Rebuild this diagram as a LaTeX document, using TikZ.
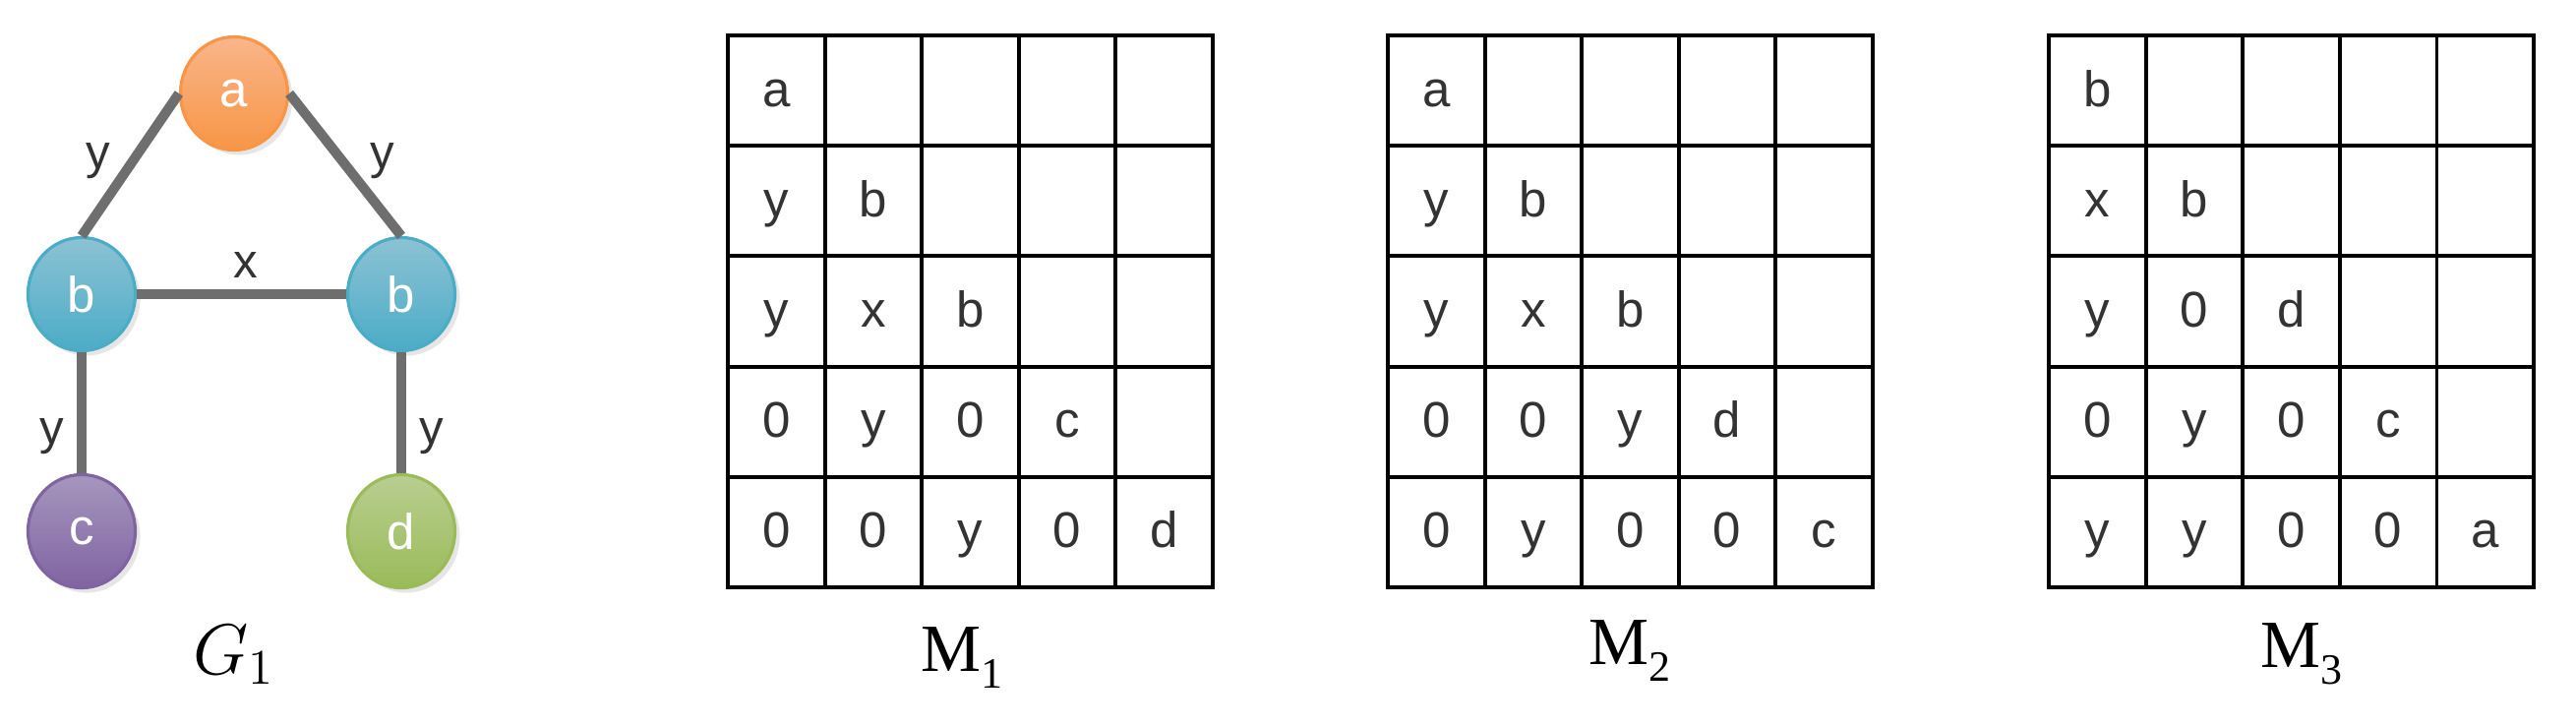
\documentclass[tikz,border=0pt]{standalone}
\usepackage{fontspec}
\newfontfamily\sansfam{Liberation Sans}
\newfontfamily\seriffam{Liberation Serif}
\usetikzlibrary{shapes.geometric, shadows}

\definecolor{vorange}{HTML}{F79646}
\definecolor{vorangelt}{HTML}{F9B58A}
\definecolor{vblue}{HTML}{4BACC6}
\definecolor{vbluelt}{HTML}{8CC2D4}
\definecolor{vpurple}{HTML}{8064A2}
\definecolor{vpurplelt}{HTML}{A696BE}
\definecolor{vgreen}{HTML}{9BBB59}
\definecolor{vgreenlt}{HTML}{B8CE90}
\definecolor{edgegray}{HTML}{6E6E6E}
\definecolor{textgray}{HTML}{333333}

\tikzset{
  vert/.style={ellipse, minimum width=1.09cm, minimum height=1.15cm, inner sep=0pt,
    line width=0.9pt, text=white, font=\sansfam\fontsize{14.5}{17}\selectfont,
    drop shadow={shadow xshift=0.05cm, shadow yshift=-0.05cm, fill=black!12, opacity=0.8}},
  gline/.style={draw=edgegray, line width=0.1cm},
  elbl/.style={font=\sansfam\fontsize{14}{17}\selectfont, text=textgray, inner sep=0pt},
  gridline/.style={line width=1.1pt, line cap=rect},
  cell/.style={font=\sansfam\fontsize{14.5}{17}\selectfont, text=textgray, inner sep=0pt, anchor=base},
  mlabel/.style={font=\seriffam\fontsize{19.5}{23}\selectfont, anchor=base}
}

% grid of 5x5 cells, #1 = left edge
\newcommand{\drawgrid}[1]{%
  \foreach \k in {0,...,5} {
    \draw[gridline] ({#1+\k*98.6},36) -- ({#1+\k*98.6},597);
    \draw[gridline] (#1,{36+\k*112.2}) -- ({#1+493},{36+\k*112.2});
  }%
}
% cell entries, #1 = left edge, #2 = name prefix, #3 = row/col/text list
\newcommand{\fillcells}[3]{%
  \foreach \r/\c/\t in {#3}
    \node[cell] (#2-\r-\c) at ({#1+(\c-0.5)*98.6},{36+(\r-0.5)*112.2+16}) {\t};%
}

\begin{document}
\begin{tikzpicture}[x=0.01cm, y=-0.01cm]
  \useasboundingbox (0,0) rectangle (2619,738);
  % --- Graph G1 ---
  \node[vert, top color=vorangelt, bottom color=vorange, draw=vorange] (a) at (238,95) {a};
  \node[vert, top color=vbluelt, bottom color=vblue, draw=vblue] (b1) at (83,299) {b};
  \node[vert, top color=vbluelt, bottom color=vblue, draw=vblue] (b2) at (408,299) {b};
  \node[vert, top color=vpurplelt, bottom color=vpurple, draw=vpurple] (c) at (83,540) {c};
  \node[vert, top color=vgreenlt, bottom color=vgreen, draw=vgreen] (d) at (408,540) {d};
  \draw[gline] (a.west) -- (b1.north)
    node[elbl, pos=0.47, left=0.18cm] (lab-ab1) {y};
  \draw[gline] (a.east) -- (b2.north)
    node[elbl, pos=0.47, right=0.235cm] (lab-ab2) {y};
  \draw[gline] (b1.east) -- (b2.west)
    node[elbl, midway, above=0.12cm, xshift=0.045cm] (lab-bb) {x};
  \draw[gline] (b1.south) -- (c.north)
    node[elbl, pos=0.7, left=0.13cm] (lab-bc) {y};
  \draw[gline] (b2.south) -- (d.north)
    node[elbl, pos=0.7, right=0.13cm] (lab-bd) {y};
  \node[font=\fontsize{20.8}{25}\selectfont, anchor=base] (g1lab) at (238,685) {$G_1$};
  % --- Matrix M1 ---
  \drawgrid{740}
  \fillcells{740}{m1}{1/1/a, 2/1/y, 2/2/b, 3/1/y, 3/2/x, 3/3/b,
    4/1/0, 4/2/y, 4/3/0, 4/4/c, 5/1/0, 5/2/0, 5/3/y, 5/4/0, 5/5/d}
  \node[mlabel] (m1lab) at (978,682) {M\raisebox{-0.25em}{\fontsize{12.5}{14}\selectfont 1}};
  % --- Matrix M2 ---
  \drawgrid{1411}
  \fillcells{1411}{m2}{1/1/a, 2/1/y, 2/2/b, 3/1/y, 3/2/x, 3/3/b,
    4/1/0, 4/2/0, 4/3/y, 4/4/d, 5/1/0, 5/2/y, 5/3/0, 5/4/0, 5/5/c}
  \node[mlabel] (m2lab) at (1657,675) {M\raisebox{-0.25em}{\fontsize{12.5}{14}\selectfont 2}};
  % --- Matrix M3 ---
  \drawgrid{2083}
  \fillcells{2083}{m3}{1/1/b, 2/1/x, 2/2/b, 3/1/y, 3/2/0, 3/3/d,
    4/1/0, 4/2/y, 4/3/0, 4/4/c, 5/1/y, 5/2/y, 5/3/0, 5/4/0, 5/5/a}
  \node[mlabel] (m3lab) at (2340,678) {M\raisebox{-0.25em}{\fontsize{12.5}{14}\selectfont 3}};
\end{tikzpicture}
\end{document}
